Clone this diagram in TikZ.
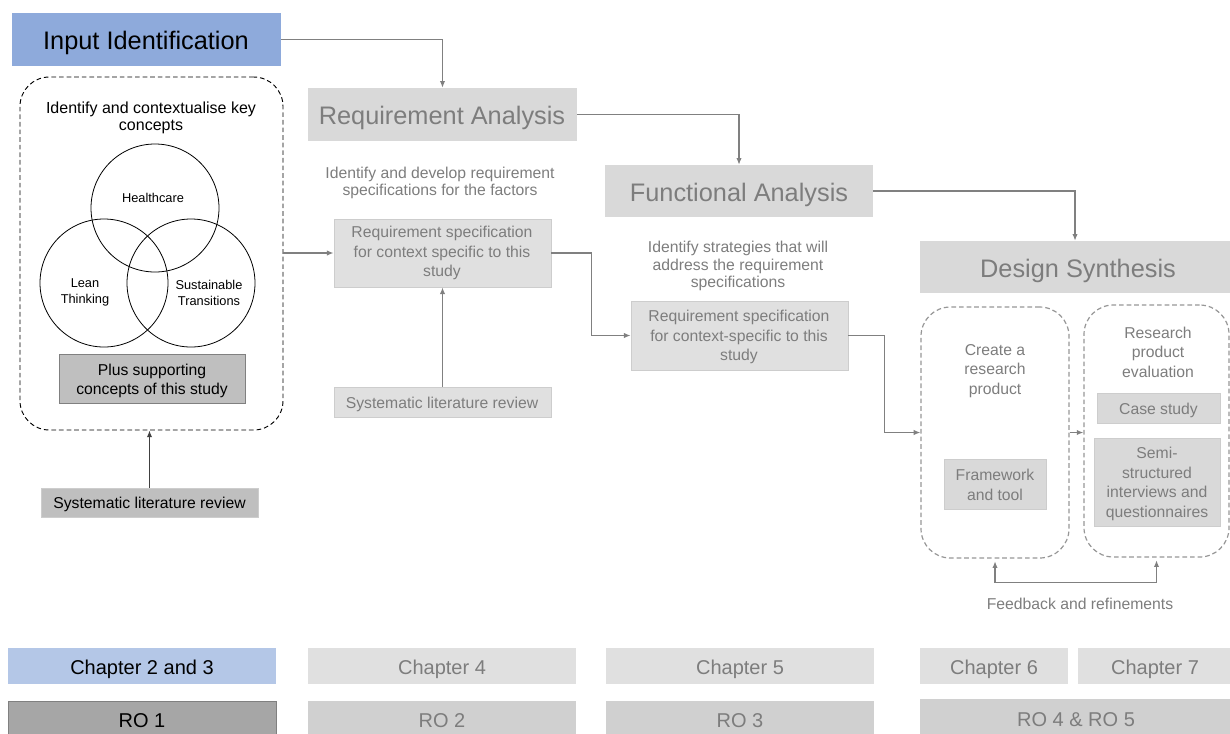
\documentclass[tikz,border=0pt]{standalone}
\usepackage{fontspec}
\setmainfont{Liberation Sans}
\usetikzlibrary{fit,arrows.meta}
\definecolor{inblue}{RGB}{142,170,219}
\definecolor{chblue}{RGB}{180,199,231}
\definecolor{midgray}{RGB}{191,191,191}
\definecolor{rogray}{RGB}{166,166,166}
\definecolor{headgray}{RGB}{217,217,217}
\definecolor{lightgray}{RGB}{224,224,224}
\definecolor{paleline}{RGB}{205,205,205}
\definecolor{rofill}{RGB}{208,208,208}
\definecolor{txtgray}{RGB}{125,125,125}
\definecolor{lngray}{RGB}{128,128,128}
\definecolor{dashgray}{RGB}{150,150,150}
\begin{document}
\begin{tikzpicture}[x=0.75pt,y=-0.75pt,
  box/.style={inner sep=0pt, align=center},
  lbl/.style={inner sep=0pt, align=center},
  headfont/.style={font=\fontsize{19}{23}\selectfont},
  bodyfont/.style={font=\fontsize{11.8}{14.6}\selectfont},
  descfont/.style={font=\fontsize{11.8}{13}\selectfont},
  smallfont/.style={font=\fontsize{9.6}{12}\selectfont},
  chapfont/.style={font=\fontsize{15}{18}\selectfont},
  greybox/.style={box, fill=lightgray, draw=paleline, line width=0.6pt},
  headbox/.style={box, fill=headgray},
  conn/.style={draw=lngray, line width=0.9pt, -{Latex[length=5pt,width=4pt]}},
  blackdash/.style={box, draw=black, line width=0.7pt, dash pattern=on 3.5pt off 2.2pt, rounded corners=22pt},
  greydash/.style={box, draw=dashgray, line width=0.9pt, dash pattern=on 3.5pt off 2.2pt, rounded corners=22pt},
  venn/.style={circle, draw=black, line width=0.6pt, minimum size=96pt, inner sep=0pt},
]
\useasboundingbox (0,0) rectangle (1230,733);

% ---- column 1: input identification ----
\node[box, fill=inblue, fit={(12,13)(281,66)}] (inid) {};
\node[lbl, headfont, anchor=base] at (146,49) {Input Identification};
\node[blackdash, fit={(20,77)(283,430)}] (ctxbox) {};
\node[lbl, font=\fontsize{12}{13}\selectfont] (ctxtxt) at (151,118) {Identify and contextualise key\\concepts};
\node[venn] (hc) at (155,208) {};
\node[venn] (lt) at (104,283) {};
\node[venn] (st) at (191,283) {};
\node[lbl, smallfont, anchor=base] (hctxt) at (153,202) {Healthcare};
\node[lbl, smallfont] (lttxt) at (85,292) {Lean\\Thinking};
\node[lbl, smallfont] (sttxt) at (209,293) {Sustainable\\Transitions};
\node[box, fill=midgray, draw=lngray, line width=0.6pt, fit={(59,354)(245,403)}] (plus) {};
\node[lbl, bodyfont] at (152,381) {Plus supporting\\concepts of this study};
\node[box, fill=midgray, draw=paleline, line width=0.5pt, fit={(41,488)(258,517)}] (slr1) {};
\node[lbl, bodyfont, anchor=base] at (149.5,508) {Systematic literature review};

% ---- column 2: requirement analysis ----
\node[headbox, fit={(308,88)(577,141)}] (reqan) {};
\node[lbl, headfont, text=txtgray, anchor=base] at (442,124) {Requirement Analysis};
\node[lbl, descfont, text=txtgray] (reqtxt) at (440,183) {Identify and develop requirement\\specifications for the factors};
\node[greybox, fit={(334,219)(551,287)}] (rs1) {};
\node[lbl, bodyfont, text=txtgray] at (442,253) {Requirement specification\\for context specific to this\\study};
\node[greybox, fit={(334,387)(551,417)}] (slr2) {};
\node[lbl, bodyfont, text=txtgray, anchor=base] at (442,408) {Systematic literature review};

% ---- column 3: functional analysis ----
\node[headbox, fit={(605,165)(873,217)}] (funan) {};
\node[lbl, headfont, text=txtgray, anchor=base] at (739,201) {Functional Analysis};
\node[lbl, descfont, text=txtgray] (funtxt) at (738,266) {Identify strategies that will\\address the requirement\\specifications};
\node[greybox, fit={(631,301)(848,370)}] (rs2) {};
\node[lbl, bodyfont, text=txtgray] at (739,337) {Requirement specification\\for context-specific to this\\study};

% ---- column 4: design synthesis ----
\node[headbox, fit={(920,241)(1230,293)}] (dessyn) {};
\node[lbl, headfont, text=txtgray, anchor=base] at (1078,277) {Design Synthesis};
\node[greydash, fit={(921,307)(1069,558)}] (create) {};
\node[greydash, fit={(1084,305)(1229,557)}] (eval) {};
\node[lbl, bodyfont, text=txtgray] (createtxt) at (995,371) {Create a\\research\\product};
\node[box, fill=headgray, draw=paleline, line width=0.6pt, fit={(944,459)(1046,509)}] (fwk) {};
\node[lbl, bodyfont, text=txtgray] at (995,485) {Framework\\and tool};
\node[lbl, bodyfont, text=txtgray] (evaltxt) at (1158,352) {Research\\product\\evaluation};
\node[box, fill=headgray, draw=paleline, line width=0.6pt, fit={(1097,393)(1220,423)}] (case) {};
\node[lbl, bodyfont, text=txtgray, anchor=base] at (1158.5,414) {Case study};
\node[box, fill=headgray, draw=paleline, line width=0.6pt, fit={(1094,438)(1220,526)}] (semi) {};
\node[lbl, bodyfont, text=txtgray] at (1157,484) {Semi-\\structured\\interviews and\\questionnaires};
\node[lbl, bodyfont, text=txtgray, anchor=base] (fbtxt) at (1080,609) {Feedback and refinements};

% ---- chapter and research objective rows ----
\node[box, fill=chblue, fit={(8,648)(276,684)}] (ch23) {};
\node[lbl, chapfont, anchor=base] at (142,674) {Chapter 2 and 3};
\node[box, fill=rogray, draw=lngray, line width=0.5pt, fit={(8,701)(276,740)}] (ro1) {};
\node[lbl, chapfont, anchor=base] at (142,727) {RO 1};
\node[box, fill=lightgray, fit={(308,648)(576,684)}] (ch4) {};
\node[lbl, chapfont, text=txtgray, anchor=base] at (442,674) {Chapter 4};
\node[box, fill=lightgray, fit={(606,648)(874,684)}] (ch5) {};
\node[lbl, chapfont, text=txtgray, anchor=base] at (740,674) {Chapter 5};
\node[box, fill=lightgray, fit={(920,648)(1068,684)}] (ch6) {};
\node[lbl, chapfont, text=txtgray, anchor=base] at (994,674) {Chapter 6};
\node[box, fill=lightgray, fit={(1078,648)(1230,684)}] (ch7) {};
\node[lbl, chapfont, text=txtgray, anchor=base] at (1155,674) {Chapter 7};
\node[box, fill=rofill, fit={(308,701)(576,740)}] (ro2) {};
\node[lbl, chapfont, text=txtgray, anchor=base] at (442,727) {RO 2};
\node[box, fill=rofill, fit={(606,701)(874,740)}] (ro3) {};
\node[lbl, chapfont, text=txtgray, anchor=base] at (740,727) {RO 3};
\node[box, fill=rofill, fit={(920,699)(1230,740)}] (ro45) {};
\node[lbl, chapfont, text=txtgray, anchor=base] at (1076,726) {RO 4 \& RO 5};

% ---- connectors ----
\draw[conn] (inid.east) -| (reqan.north);
\draw[conn] (reqan.east) -| (funan.north);
\draw[conn] (funan.east) -| (dessyn.north);
\draw[conn, draw=black!75] (slr1.north) -- (slr1.north |- ctxbox.south);
\draw[conn] (ctxbox.east |- rs1.west) -- (rs1.west);
\draw[conn] (slr2.north) -- (rs1.south);
\draw[conn] (rs1.east) -- ++(40,0) |- (rs2.west);
\draw[conn] (rs2.east) -- ++(36,0) |- (create.west);
\draw[conn] (create.east) -- (create.east -| eval.west);
\draw[draw=lngray, line width=0.9pt, {Latex[length=5pt,width=4pt]}-{Latex[length=5pt,width=4pt]}, shorten <=2pt, shorten >=2pt]
  (create.south) -- ++(0,24) -| (eval.south);
\end{tikzpicture}
\end{document}
